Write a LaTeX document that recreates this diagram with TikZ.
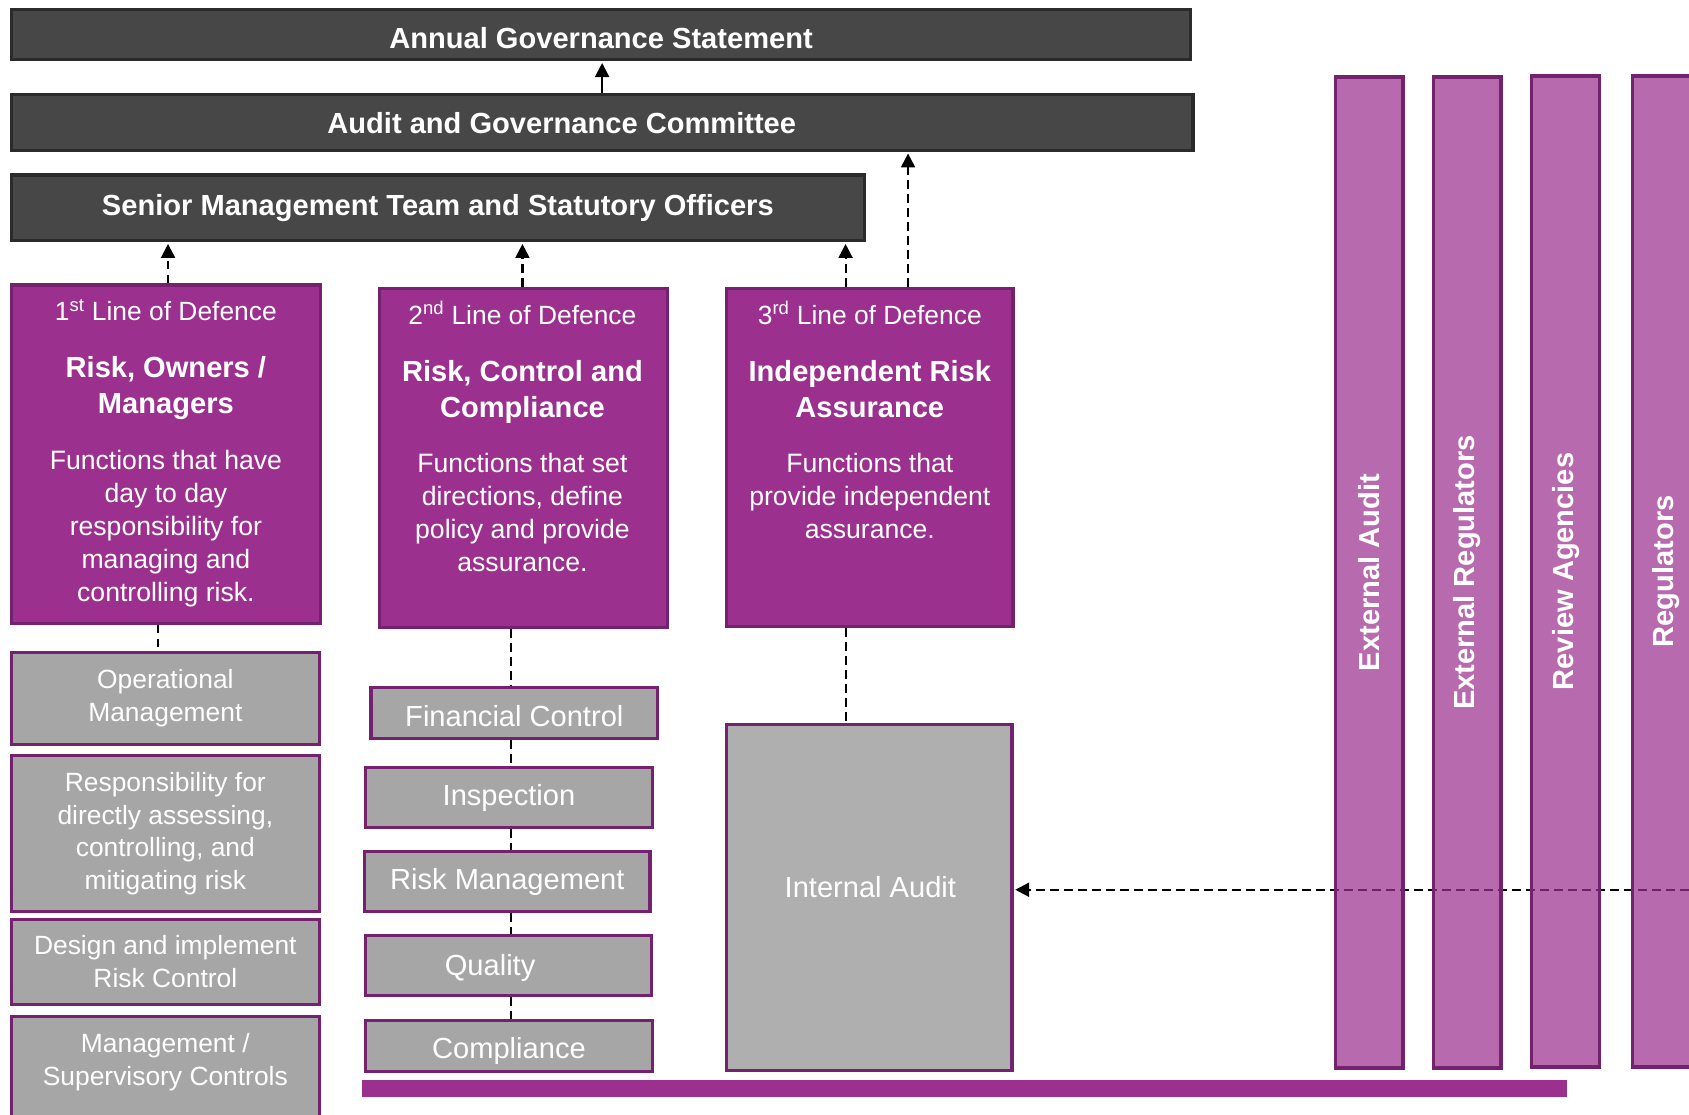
\documentclass[tikz,border=0pt]{standalone}
\usepackage{fontspec}
\setmainfont{Liberation Sans}
\usetikzlibrary{arrows.meta,positioning}
\definecolor{barfill}{HTML}{474747}
\definecolor{baredge}{HTML}{2B2B2B}
\definecolor{lodfill}{HTML}{9B308F}
\definecolor{lodedge}{HTML}{74216E}
\definecolor{ctrlfill}{HTML}{A6A6A6}
\definecolor{iafill}{HTML}{AFAFAF}
\begin{document}
\begin{tikzpicture}[x=1pt,y=-1pt,
	topbar/.style={rectangle,draw=baredge,line width=3pt,fill=barfill,text=white,font=\fontsize{27}{32}\selectfont\bfseries},
	bartext/.style={text=white,font=\fontsize{27}{32}\selectfont\bfseries},
	lodbox/.style={rectangle,draw=lodedge,line width=3pt,fill=lodfill},
	lodhead/.style={text=white,anchor=base,font=\fontsize{24.5}{30}\selectfont},
	lodtitle/.style={text=white,anchor=base,align=center,font=\fontsize{27}{33.5}\selectfont\bfseries},
	lodbody/.style={text=white,anchor=base,align=center,font=\fontsize{24.7}{30.6}\selectfont},
	ctrlbox/.style={rectangle,draw=lodedge,line width=3pt,fill=ctrlfill,text=white,align=center,font=\fontsize{24.5}{30.5}\selectfont},
	ctrltext/.style={text=white,align=center,font=\fontsize{24.5}{30.5}\selectfont},
	funcbox/.style={ctrlbox,font=\fontsize{27}{32}\selectfont},
	functext/.style={text=white,anchor=base,font=\fontsize{27}{32}\selectfont},
	agencybar/.style={rectangle,draw=lodedge,line width=3pt,fill=lodfill,fill opacity=0.72,text opacity=1,text=white,rotate=90,minimum width=920pt,minimum height=63pt,font=\fontsize{27}{32}\selectfont\bfseries},
	upline/.style={line width=2pt,-{Triangle[width=13pt,length=13pt]},shorten >=1.5pt},
	dashup/.style={upline,dash pattern=on 8pt off 5pt},
	dashlink/.style={line width=2pt,dash pattern=on 8pt off 5pt}]
	\useasboundingbox (0,0) rectangle (1568,1035);
	% governance bars
	\node (ags) at (558,32) [topbar,text height=25.5pt,minimum width=1095pt,minimum height=47pt] {Annual Governance Statement};
	\node (agc) at (559,113.5) [topbar,minimum width=1097pt,minimum height=52pt] {};
	\node (agct) at (521.5,114.4) [bartext] {Audit and Governance Committee};
	\node (smt) at (406.5,193) [topbar,minimum width=792pt,minimum height=61pt] {Senior Management Team and Statutory Officers};
	% lines of defence (text placed by the baseline of its last line)
	\node (lod1) at (154,421.5) [lodbox,minimum width=287pt,minimum height=314pt] {};
	\node (lod1h) at ([yshift=-35pt]lod1.north) [lodhead] {1\textsuperscript{st} Line of Defence};
	\node (lod1t) at ([yshift=-120.5pt]lod1.north) [lodtitle] {Risk, Owners /\\Managers};
	\node (lod1b) at ([yshift=-295.1pt]lod1.north) [lodbody] {Functions that have\\day to day\\responsibility for\\managing and\\controlling risk.};
	\node (lod2) at (486,425) [lodbox,minimum width=267pt,minimum height=315pt] {};
	\node (lod2h) at ([yshift=-35pt,xshift=-1pt]lod2.north) [lodhead] {2\textsuperscript{nd} Line of Defence};
	\node (lod2t) at ([yshift=-121.8pt,xshift=-1pt]lod2.north) [lodtitle] {Risk, Control and\\Compliance};
	\node (lod2b) at ([yshift=-264.6pt,xshift=-1pt]lod2.north) [lodbody] {Functions that set\\directions, define\\policy and provide\\assurance.};
	\node (lod3) at (807.5,424.5) [lodbox,minimum width=266pt,minimum height=314pt] {};
	\node (lod3h) at ([yshift=-35pt]lod3.north) [lodhead] {3\textsuperscript{rd} Line of Defence};
	\node (lod3t) at ([yshift=-121.8pt]lod3.north) [lodtitle] {Independent Risk\\Assurance};
	\node (lod3b) at ([yshift=-234pt]lod3.north) [lodbody] {Functions that\\provide independent\\assurance.};
	% first line controls
	\node (g1) at (153.5,648.5) [ctrlbox,minimum width=286pt,minimum height=86pt] {Operational\\Management};
	\node (g2) at (153.5,774) [ctrlbox,minimum width=286pt,minimum height=145pt] {Responsibility for\\directly assessing,\\controlling, and\\mitigating risk};
	\node (g3) at (153.5,893) [ctrlbox,minimum width=286pt,minimum height=79pt] {Design and implement\\Risk Control};
	\node (g4) at (153.5,995) [ctrlbox,minimum width=286pt,minimum height=103pt] {};
	\node (g4t) at (153.5,986) [ctrltext] {Management /\\Supervisory Controls};
	% second line functions
	\node (fc) at (477.5,662) [funcbox,text height=25.7pt,minimum width=266pt,minimum height=47pt] {Financial Control};
	\node (insp) at (472.5,740.5) [funcbox,minimum width=266pt,minimum height=56pt] {Inspection};
	\node (rm) at (471,818.5) [funcbox,minimum width=265pt,minimum height=56pt] {Risk Management};
	\node (qual) at (472,896.5) [funcbox,minimum width=265pt,minimum height=56pt] {};
	\node (qualt) at (455,905.2) [functext] {Quality};
	\node (comp) at (472.5,971) [funcbox,text height=29.7pt,minimum width=266pt,minimum height=47pt] {Compliance};
	% third line
	\node (ia) at (807,833) [funcbox,fill=iafill,minimum width=265pt,minimum height=321pt] {};
	\node (iat) at (808,833) [functext] {Internal Audit};
	\fill [lodfill] (336,1003) rectangle (1455,1018);
	% links
	\draw [upline] (agc.north) -- (agc.north|-ags.south);
	\draw [dashup] ([xshift=2pt]lod1.north) -- ([xshift=2pt]lod1.north|-smt.south);
	\draw [dashup] ([xshift=-1pt]lod2.north) -- ([xshift=-1pt]lod2.north|-smt.south);
	\draw [dashup] ([xshift=-22.5pt]lod3.north) -- ([xshift=-22.5pt]lod3.north|-smt.south);
	\draw [dashup] ([xshift=35.5pt]lod3.north) -- ([xshift=35.5pt]lod3.north|-agc.south);
	\draw [dashlink] ([xshift=-7pt]lod1.south) -- ([xshift=-7pt]lod1.south|-g1.north);
	\coordinate (c2) at ([xshift=-12pt]lod2.south);
	\draw [dashlink] (c2) -- (c2|-fc.north);
	\draw [dashlink] (c2|-fc.south) -- (c2|-insp.north);
	\draw [dashlink] (c2|-insp.south) -- (c2|-rm.north);
	\draw [dashlink] (c2|-rm.south) -- (c2|-qual.north);
	\draw [dashlink] (c2|-qual.south) -- (c2|-comp.north);
	\draw [dashlink] ([xshift=-22.5pt]lod3.south) -- ([xshift=-22.5pt]lod3.south|-ia.north);
	\coordinate (ext) at (1568,826);
	\draw [dashup] (ext) -- (ext-|ia.east);
	% external bodies
	\node (extaudit) at (1271,531.5) [agencybar] {External Audit};
	\node (extreg) at (1362,531.5) [agencybar] {External Regulators};
	\node (review) at (1453.5,530.5) [agencybar] {Review Agencies};
	\node (reg) at (1547,530.5) [agencybar] {Regulators};
\end{tikzpicture}
\end{document}
